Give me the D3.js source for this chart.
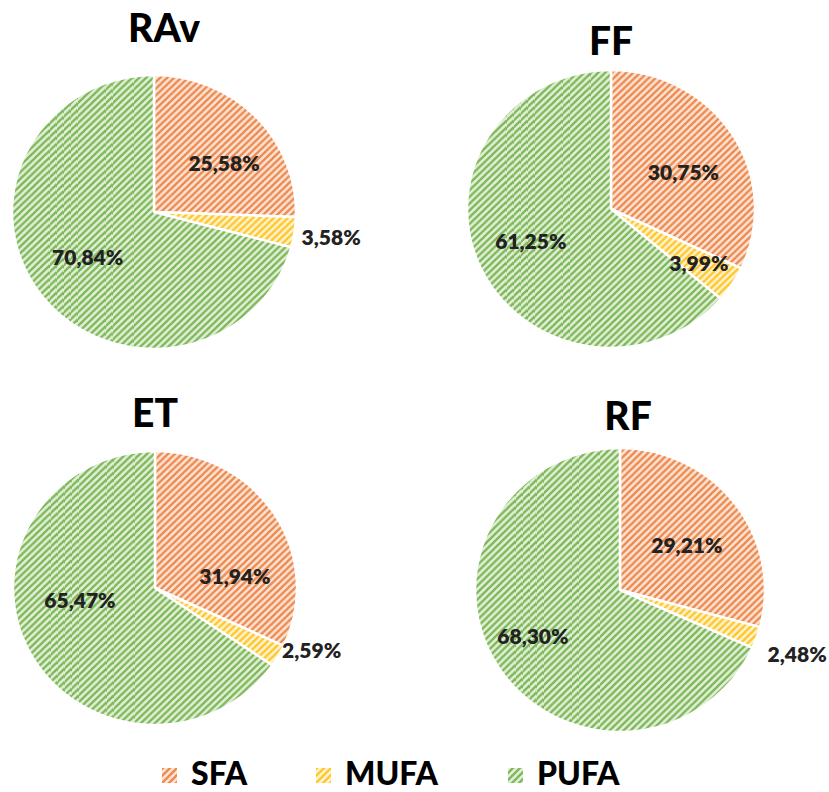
<!DOCTYPE html>
<html>
<head>
<meta charset="utf-8">
<script src="https://cdn.jsdelivr.net/npm/d3@7"></script>
<style>
  html, body { margin: 0; padding: 0; background: #fff; }
  svg { display: block; }
</style>
</head>
<body>
<svg id="chart" width="829" height="792"></svg>
<script>
// Fatty-acid composition by sample
const samples = ["RAv", "FF", "ET", "RF"];
const fractions = ["SFA", "MUFA", "PUFA"];
const sfaValues  = [25.58, 30.75, 31.94, 29.21];
const mufaValues = [3.58, 3.99, 2.59, 2.48];
const pufaValues = [70.84, 61.25, 65.47, 68.30];

// Panel geometry (centre, horizontal / vertical radius) and title placement
const panels = [
  { cx: 154, cy: 212, rx: 142, ry: 137, tx: 164, ty: 42 },
  { cx: 611, cy: 209, rx: 144, ry: 139, tx: 611, ty: 55 },
  { cx: 155, cy: 588, rx: 142, ry: 137, tx: 155, ty: 427 },
  { cx: 620, cy: 590, rx: 145, ry: 142, tx: 628, ty: 430 }
];
// Label placement per slice: [angle in degrees clockwise from 12 o'clock, radial fraction]
const labelPlacement = [
  [[54, 0.61], [98, 1.26], [235, 0.57]],
  [[62, 0.57], [122, 0.72], [248, 0.6]],
  [[81, 0.57], [112, 1.19], [261, 0.535]],
  [[55.5, 0.56], [110, 1.30], [242, 0.68]]
];

const hatch = {
  SFA:  { fg: "#EE8A4F", bg: "#FCE3D4" },
  MUFA: { fg: "#FFC72E", bg: "#FFF3CC" },
  PUFA: { fg: "#7FB85A", bg: "#E0EFD6" }
};

const svg = d3.select("#chart");
const defs = svg.append("defs");

// Wide upward-diagonal hatch fills
fractions.forEach(f => {
  const p = defs.append("pattern")
    .attr("id", "hatch-" + f)
    .attr("patternUnits", "userSpaceOnUse")
    .attr("width", 7).attr("height", 7);
  p.append("rect").attr("width", 7).attr("height", 7).attr("fill", hatch[f].bg);
  p.append("path")
    .attr("d", "M-1,1 L1,-1 M0,7 L7,0 M6,8 L8,6")
    .attr("stroke", hatch[f].fg)
    .attr("stroke-width", 2.3)
    .attr("stroke-linecap", "square");
});

const pie = d3.pie().sort(null).value(d => d.value);
const fmt = v => v.toFixed(2).replace(".", ",") + "%";

samples.forEach((name, i) => {
  const P = panels[i];
  const data = fractions.map((f, k) => ({
    key: f,
    value: [sfaValues, mufaValues, pufaValues][k][i]
  }));
  const arcs = pie(data);
  const arc = d3.arc().innerRadius(0).outerRadius(P.rx);

  const g = svg.append("g");

  g.append("g")
    .attr("transform", `translate(${P.cx},${P.cy}) scale(1,${P.ry / P.rx})`)
    .selectAll("path")
    .data(arcs)
    .join("path")
    .attr("d", arc)
    .attr("fill", d => `url(#hatch-${d.data.key})`)
    .attr("stroke", "#fff")
    .attr("stroke-width", 2.5)
    .attr("vector-effect", "non-scaling-stroke")
    .attr("stroke-linejoin", "round");

  g.selectAll("text.val")
    .data(arcs)
    .join("text")
    .attr("class", "val")
    .attr("x", (d, k) => P.cx + P.rx * labelPlacement[i][k][1] * Math.sin(labelPlacement[i][k][0] * Math.PI / 180))
    .attr("y", (d, k) => P.cy - P.ry * labelPlacement[i][k][1] * Math.cos(labelPlacement[i][k][0] * Math.PI / 180))
    .attr("text-anchor", "middle")
    .attr("dominant-baseline", "central")
    .attr("font-family", "Lato, 'Open Sans', sans-serif")
    .attr("font-weight", 800)
    .attr("font-size", 21)
    .attr("fill", "#222")
    .text(d => fmt(d.value));

  g.append("text")
    .attr("x", P.tx).attr("y", P.ty)
    .attr("text-anchor", "middle")
    .attr("font-family", "Lato, 'Open Sans', sans-serif")
    .attr("font-weight", 900)
    .attr("font-size", 39)
    .attr("fill", "#000")
    .text(name);
});

// Legend along the bottom edge
const legendX = d3.scaleOrdinal().domain(fractions).range([162, 316, 508]);
const legend = svg.append("g");
fractions.forEach(f => {
  const x = legendX(f);
  legend.append("rect")
    .attr("x", x).attr("y", 768).attr("width", 15).attr("height", 15)
    .attr("fill", `url(#hatch-${f})`);
  legend.append("text")
    .attr("x", x + 29).attr("y", 785)
    .attr("font-family", "Lato, 'Open Sans', sans-serif")
    .attr("font-weight", 900)
    .attr("font-size", 32)
    .attr("fill", "#000")
    .text(f);
});
</script>
</body>
</html>
